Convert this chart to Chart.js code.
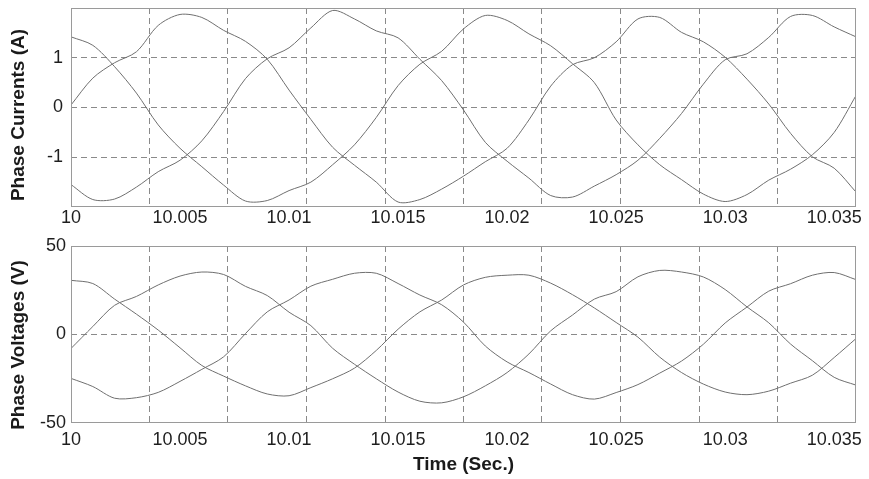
<!DOCTYPE html>
<html>
<head>
<meta charset="utf-8">
<script src="https://cdn.jsdelivr.net/npm/chart.js@4.4.1/dist/chart.umd.min.js"></script>
<style>
  body { margin: 0; background: #fff; }
  #wrap { position: relative; width: 869px; height: 479px; overflow: hidden; }
  .box { position: absolute; left: 0; width: 869px; }
  .ytitle {
    position: absolute; white-space: nowrap;
    font: bold 19px "Liberation Sans", Arial, sans-serif; line-height: 19px; color: #1a1a1a;
    transform: translate(-50%, -50%) rotate(-90deg);
  }
</style>
</head>
<body>
<div id="wrap">
  <div class="box" style="top:0;height:232px"><canvas id="currents"></canvas></div>
  <div class="box" style="top:232px;height:247px"><canvas id="voltages"></canvas></div>
  <div class="ytitle" style="left:17px;top:115px">Phase Currents (A)</div>
  <div class="ytitle" style="left:17px;top:345px">Phase Voltages (V)</div>
</div>
<script>
// temps (s)
const times = [10.000, 10.001, 10.002, 10.003, 10.004, 10.005, 10.006, 10.007, 10.008, 10.009,
  10.010, 10.011, 10.012, 10.013, 10.014, 10.015, 10.016, 10.017, 10.018, 10.019,
  10.020, 10.021, 10.022, 10.023, 10.024, 10.025, 10.026, 10.027, 10.028, 10.029,
  10.030, 10.031, 10.032, 10.033, 10.034, 10.035, 10.036];

// courants de phase (A)
const currentA = [0.05, 0.59, 0.90, 1.12, 1.65, 1.87, 1.81, 1.55, 1.33, 0.97, 0.35, -0.24, -0.80, -1.16, -1.50, -1.90, -1.85, -1.64, -1.38, -1.09,
  -0.82, -0.25, 0.43, 0.86, 1.00, 1.32, 1.78, 1.81, 1.51, 1.32, 1.01, 0.57, 0.07, -0.52, -0.99, -1.22, -1.70];
const currentB = [1.42, 1.25, 0.82, 0.29, -0.35, -0.82, -1.19, -1.56, -1.88, -1.87, -1.67, -1.50, -1.15, -0.75, -0.20, 0.44, 0.87, 1.13, 1.58, 1.85,
  1.75, 1.48, 1.24, 0.88, 0.50, -0.25, -0.75, -1.15, -1.45, -1.74, -1.89, -1.75, -1.46, -1.24, -0.95, -0.50, 0.24];
const currentC = [-1.55, -1.85, -1.84, -1.60, -1.29, -1.06, -0.67, -0.08, 0.58, 0.98, 1.20, 1.60, 1.95, 1.78, 1.54, 1.40, 0.97, 0.54, -0.05, -0.70,
  -1.08, -1.42, -1.77, -1.80, -1.58, -1.35, -1.06, -0.62, -0.12, 0.47, 0.96, 1.08, 1.41, 1.83, 1.85, 1.62, 1.42];

// tensions de phase (V)
const voltageA = [30.6, 28.8, 20, 11.5, 2.5, -7.5, -17.5, -23.5, -29, -33.6, -34.6, -30, -25, -19, -9, 3, 12.8, 19.5, 28, 32.3,
  33.5, 33.5, 29, 22.5, 15, 6.8, -1.5, -12.8, -21.5, -28, -32.5, -34, -32, -27.5, -23, -13, -2.3];
const voltageB = [-7.9, 4.5, 16.5, 21.5, 28, 33, 35.3, 33.9, 27.2, 22, 12.6, 5, -7.8, -16.8, -25, -32.5, -37.7, -38.6, -35.2, -29,
  -21.5, -11, 2.1, 11, 20, 24.2, 32.6, 36.2, 35.3, 32.5, 25.4, 15.6, 6.6, -5.4, -14.8, -24.2, -28.6];
const voltageC = [-24.8, -29.4, -36, -35.7, -32.7, -26.5, -19.7, -12.6, 0.5, 12.8, 19.5, 27.3, 31.2, 34.6, 34.6, 28.8, 22.3, 16.8, 7, -6.5,
  -15.5, -21.5, -28, -34, -36.5, -32.8, -28.3, -21.8, -15, -5.5, 6.5, 15.5, 24.5, 28.7, 33.5, 35, 31];

// graduations
const xTickValues = [10, 10.005, 10.01, 10.015, 10.02, 10.025, 10.03, 10.035];
const xTickLabels = ["10", "10.005", "10.01", "10.015", "10.02", "10.025", "10.03", "10.035"];
const currentTickValues = [-2, -1, 0, 1, 2];
const currentTickLabels = ["", "-1", "0", "1", ""];
const voltageTickValues = [-50, 0, 50];
const voltageTickLabels = ["-50", "0", "50"];

const X_MIN = 10, X_MAX = 10.036;
const LINE = "#6f6f6f";
const GRID = "#8a8a8a";
const FONT = "'Liberation Sans', Arial, sans-serif";

// cadre autour de la zone de tracé
const boxPlugin = {
    id: "box",
    afterDraw(chart) {
        const a = chart.chartArea;
        const ctx = chart.ctx;
        ctx.save();
        ctx.strokeStyle = "#9a9a9a";
        ctx.lineWidth = 1;
        ctx.strokeRect(Math.round(a.left) + 0.5, Math.round(a.top) + 0.5,
            Math.round(a.right - a.left) - 1, Math.round(a.bottom - a.top) - 1);
        ctx.restore();
    }
};

function serie(values) {
    return {
        data: times.map((t, i) => ({ x: t, y: values[i] })),
        borderColor: LINE,
        borderWidth: 1,
        pointRadius: 0,
        tension: 0.3,
        fill: false
    };
}

function axesX(labelHeight, labelPadding, title) {
    return {
        x: {
            type: "linear", position: "bottom", min: X_MIN, max: X_MAX,
            grid: { display: false, drawTicks: false },
            border: { display: false },
            afterBuildTicks: s => { s.ticks = xTickValues.map(v => ({ value: v })); },
            afterFit: s => { s.height = labelHeight; s.paddingLeft = 0; s.paddingRight = 0; },
            ticks: {
                autoSkip: false, maxRotation: 0, padding: labelPadding,
                color: "#1e1e1e", font: { family: FONT, size: 18 },
                callback: (v, i) => xTickLabels[i]
            },
            title: title ? {
                display: true, text: title, color: "#1a1a1a",
                font: { family: FONT, size: 19, weight: "bold" },
                padding: { top: 0, bottom: 3 }
            } : { display: false }
        },
        xg: {
            type: "linear", position: "top", min: X_MIN, max: X_MAX,
            afterBuildTicks: s => {
                const t = [];
                for (let j = 1; j < 10; j++) t.push({ value: X_MIN + j * (X_MAX - X_MIN) / 10 });
                s.ticks = t;
            },
            afterFit: s => { s.height = 0; s.paddingLeft = 0; s.paddingRight = 0; },
            ticks: { display: false },
            grid: { color: GRID, lineWidth: 1, drawTicks: false },
            border: { display: false, dash: [6, 4] }
        }
    };
}

function options(yMin, yMax, yValues, yLabels, gridOn, yPad, xHeight, xPad, xTitle, padTop) {
    const scales = axesX(xHeight, xPad, xTitle);
    scales.y = {
        min: yMin, max: yMax,
        afterBuildTicks: s => { s.ticks = yValues.map(v => ({ value: v })); },
        afterFit: s => { s.width = 71; s.paddingTop = 0; s.paddingBottom = 0; },
        grid: {
            drawTicks: false,
            color: ctx => gridOn(ctx.tick.value) ? GRID : "rgba(0,0,0,0)"
        },
        border: { display: false, dash: [6, 4] },
        ticks: {
            padding: yPad, color: "#1e1e1e", font: { family: FONT, size: 18 },
            callback: (v, i) => yLabels[i]
        }
    };
    return {
        responsive: true,
        maintainAspectRatio: false,
        animation: false,
        layout: { padding: { top: padTop, right: 13, left: 0, bottom: 0 } },
        plugins: { legend: { display: false }, tooltip: { enabled: false } },
        scales
    };
}

new Chart(document.getElementById("currents"), {
    type: "line",
    data: { datasets: [serie(currentA), serie(currentB), serie(currentC)] },
    options: options(-2, 2, currentTickValues, currentTickLabels, v => v > -2, 8, 25, 0, null, 8),
    plugins: [boxPlugin]
});

new Chart(document.getElementById("voltages"), {
    type: "line",
    data: { datasets: [serie(voltageA), serie(voltageB), serie(voltageC)] },
    options: options(-50, 50, voltageTickValues, voltageTickLabels, v => v === 0, 5, 56, 6, "Time (Sec.)", 14),
    plugins: [boxPlugin]
});
</script>
</body>
</html>
